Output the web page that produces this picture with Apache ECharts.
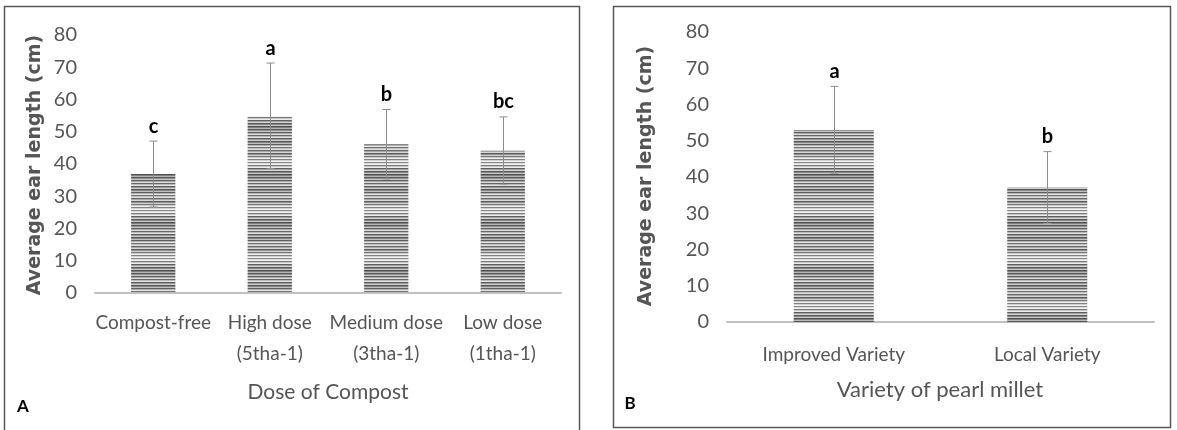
<!DOCTYPE html>
<html>
<head>
<meta charset="utf-8">
<script src="https://cdn.jsdelivr.net/npm/echarts@6/dist/echarts.min.js"></script>
<style>html,body{margin:0;padding:0;background:#fff}#c{width:1177px;height:430px}</style>
</head>
<body>
<div id="c"></div>
<script>
// ---- data ----
const catsA = ['Compost-free', 'High dose\n(5tha-1)', 'Medium dose\n(3tha-1)', 'Low dose\n(1tha-1)'];
const meansA = [36.9, 54.9, 46.1, 44.1];
const errA = [10.2, 16.4, 10.8, 10.5];
const lettersA = ['c', 'a', 'b', 'bc'];

const catsB = ['Improved Variety', 'Local Variety'];
const meansB = [53.0, 37.1];
const errB = [12.0, 9.9];
const lettersB = ['a', 'b'];

const yMin = 0, yMax = 80, yStep = 10;

// ---- style ----
const FONT = 'Lato, "Open Sans", sans-serif';
const GREY = '#555555';
const STRIPES = [0x60,0xb0,0xe8,0x70,0xc0,0xe0,0x68,0xa8,0xd8,0x5c,0x90,0xd0,
  0x78,0xc8,0xf0,0x80,0xd0,0xf4,0x88,0xd8,0xf4,0x78,0xc8,0xec,
  0x60,0xa0,0xd8,0x58,0x88,0xc8,0x50,0x80,0xb8,0x58,0x90,0xc8,
  0x60,0xa8,0xdc,0x68,0xb8,0xe4,0x5c,0x98,0xd0,0x54,0x88,0xc0];
function makePattern() {
  const cv = document.createElement('canvas');
  cv.width = 4; cv.height = STRIPES.length;
  const ctx = cv.getContext('2d');
  STRIPES.forEach((g, i) => {
    ctx.fillStyle = 'rgb(' + g + ',' + g + ',' + g + ')';
    ctx.fillRect(0, i, 4, 1);
  });
  return cv;
}
const pattern = { image: makePattern(), repeat: 'repeat' };

function errRender(letters) {
  return function (params, api) {
    const i = api.value(0), m = api.value(1), e = api.value(2);
    const top = api.coord([i, m + e]);
    const bot = api.coord([i, m - e]);
    const x = Math.round(top[0]) + 0.5;
    const w = 4;
    const ls = { stroke: '#8c8c8c', lineWidth: 1 };
    return {
      type: 'group',
      children: [
        { type: 'line', shape: { x1: x, y1: top[1], x2: x, y2: bot[1] }, style: ls },
        { type: 'line', shape: { x1: x - w, y1: top[1], x2: x + w, y2: top[1] }, style: ls },
        { type: 'line', shape: { x1: x - w, y1: bot[1], x2: x + w, y2: bot[1] }, style: { stroke: '#a0a0a0', lineWidth: 1 } },
        { type: 'text', style: { text: letters[params.dataIndex], x: x, y: top[1] - 5,
            textAlign: 'center', textVerticalAlign: 'bottom',
            font: 'bold 20px ' + FONT, fill: '#000' } }
      ]
    };
  };
}

const yAxisCommon = {
  type: 'value', min: yMin, max: yMax, interval: yStep,
  axisLine: { show: false }, axisTick: { show: false }, splitLine: { show: false },
  axisLabel: { color: GREY, fontSize: 20, fontFamily: FONT, margin: 18 }
};
const xAxisCommon = {
  type: 'category',
  axisLine: { show: true, lineStyle: { color: '#c0c0c0', width: 2 } },
  axisTick: { show: false },
  axisLabel: { color: GREY, fontSize: 19, fontFamily: FONT, lineHeight: 31, interval: 0 }
};

const chart = echarts.init(document.getElementById('c'), null, { renderer: 'canvas' });
chart.setOption({
  animation: false,
  backgroundColor: '#fff',
  grid: [
    { left: 95, top: 35, width: 466, height: 258 },
    { left: 727, top: 32, width: 427, height: 290 }
  ],
  xAxis: [
    Object.assign({}, xAxisCommon, { gridIndex: 0, data: catsA, axisLabel: Object.assign({}, xAxisCommon.axisLabel, { margin: 14 }) }),
    Object.assign({}, xAxisCommon, { gridIndex: 1, data: catsB, axisLabel: Object.assign({}, xAxisCommon.axisLabel, { margin: 17 }) })
  ],
  yAxis: [
    Object.assign({}, yAxisCommon, { gridIndex: 0, axisLabel: Object.assign({}, yAxisCommon.axisLabel, { padding: [0, 0, 8, 0] }) }),
    Object.assign({}, yAxisCommon, { gridIndex: 1 })
  ],
  series: [
    { type: 'bar', xAxisIndex: 0, yAxisIndex: 0, data: meansA, barWidth: '38%',
      itemStyle: { color: pattern } },
    { type: 'custom', xAxisIndex: 0, yAxisIndex: 0, z: 5,
      data: meansA.map((m, i) => [i, m, errA[i]]), renderItem: errRender(lettersA) },
    { type: 'bar', xAxisIndex: 1, yAxisIndex: 1, data: meansB, barWidth: '37.5%',
      itemStyle: { color: pattern } },
    { type: 'custom', xAxisIndex: 1, yAxisIndex: 1, z: 5,
      data: meansB.map((m, i) => [i, m, errB[i]]), renderItem: errRender(lettersB) }
  ],
  graphic: [
    { type: 'rect', shape: { x: 4.5, y: 6.5, width: 575, height: 440 },
      style: { fill: 'none', stroke: '#595959', lineWidth: 1.5 } },
    { type: 'rect', shape: { x: 613.5, y: 6.5, width: 557, height: 421 },
      style: { fill: 'none', stroke: '#595959', lineWidth: 1.5 } },
    { type: 'text', x: 35, y: 165, rotation: Math.PI / 2,
      style: { text: 'Average ear length (cm)', font: 'bold 19px "DejaVu Sans", sans-serif', fill: GREY,
        textAlign: 'center', textVerticalAlign: 'middle' } },
    { type: 'text', x: 646, y: 176, rotation: Math.PI / 2,
      style: { text: 'Average ear length (cm)', font: 'bold 19px "DejaVu Sans", sans-serif', fill: GREY,
        textAlign: 'center', textVerticalAlign: 'middle' } },
    { type: 'text', x: 328, y: 392,
      style: { text: 'Dose of Compost', font: '21px ' + FONT, fill: GREY,
        textAlign: 'center', textVerticalAlign: 'middle' } },
    { type: 'text', x: 940, y: 390,
      style: { text: 'Variety of pearl millet', font: '22px ' + FONT, fill: GREY,
        textAlign: 'center', textVerticalAlign: 'middle' } },
    { type: 'text', x: 23, y: 407,
      style: { text: 'A', font: 'bold 17px ' + FONT, fill: '#000', textAlign: 'center', textVerticalAlign: 'middle' } },
    { type: 'text', x: 630, y: 404,
      style: { text: 'B', font: 'bold 17px ' + FONT, fill: '#000', textAlign: 'center', textVerticalAlign: 'middle' } }
  ]
});
</script>
</body>
</html>
